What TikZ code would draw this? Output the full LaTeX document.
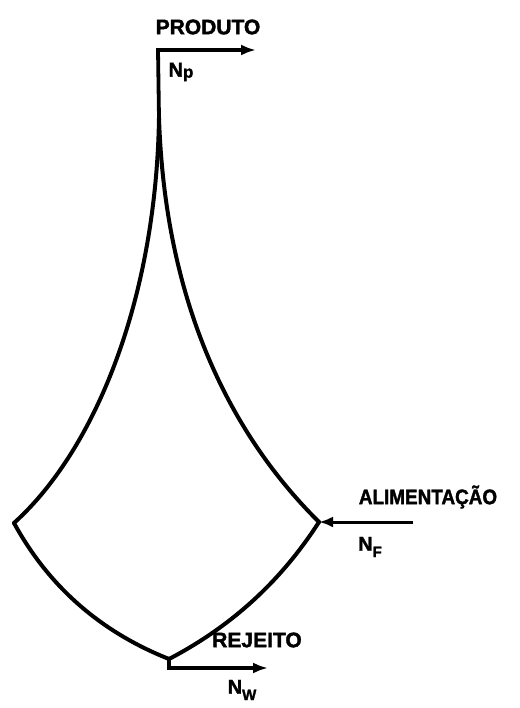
\documentclass[tikz,border=0pt]{standalone}
\usepackage{fontspec}
\setmainfont[BoldFeatures={FakeBold=1.8}]{Liberation Sans}
\usetikzlibrary{arrows.meta}
\begin{document}
\begin{tikzpicture}[x=1pt,y=-1pt,
  curve/.style={line width=4pt,line join=round,line cap=round},
  flow/.style={line width=3.8pt,line join=miter,-{Latex[length=15pt,width=11pt]}},
  lbl/.style={font=\fontsize{21}{24}\selectfont\bfseries,inner sep=0pt},
  sym/.style={font=\fontsize{20}{24}\selectfont\bfseries,inner sep=0pt}]
\useasboundingbox (0,0) rectangle (519,708);
% corners
\coordinate (top) at (158,50);
\coordinate (split) at (159,118);
\coordinate (left) at (14,523);
\coordinate (right) at (319,522);
\coordinate (bot) at (169,659);
\coordinate (botc) at (169,668);
\coordinate (topend) at (256,50);
\coordinate (botend) at (268,668);
\coordinate (feedstart) at (413,522);
% column outline
\draw[curve] (split) .. controls (156,300) and (95,450) .. (left);
\draw[curve] (split) .. controls (165,300) and (228,432) .. (right);
\draw[curve] (left) .. controls (49,587) and (101,632) .. (bot);
\draw[curve] (bot) .. controls (232,626) and (281,581) .. (right);
% streams
\draw[flow] (split) -- (top) -- (topend);
\draw[flow] (bot) -- (botc) -- (botend);
\draw[line width=3pt,-{Latex[length=14pt,width=11pt]}] (feedstart) -- (right);
% labels
\node[lbl] (produto) at (208,27) {PRODUTO};
\node[sym] (np) at (181,72) {N\raisebox{-0.1ex}{\fontsize{17}{18}\selectfont p}};
\node[lbl,xscale=0.9] (alim) at (428,497) {ALIMENTAÇÃO};
\node[sym] (nf) at (370,547) {N\raisebox{-0.6ex}{\fontsize{15}{16}\selectfont F}};
\node[lbl] (rej) at (257,640) {REJEITO};
\node[sym] (nw) at (242,690) {N\raisebox{-0.6ex}{\fontsize{15}{16}\selectfont W}};
\end{tikzpicture}
\end{document}
